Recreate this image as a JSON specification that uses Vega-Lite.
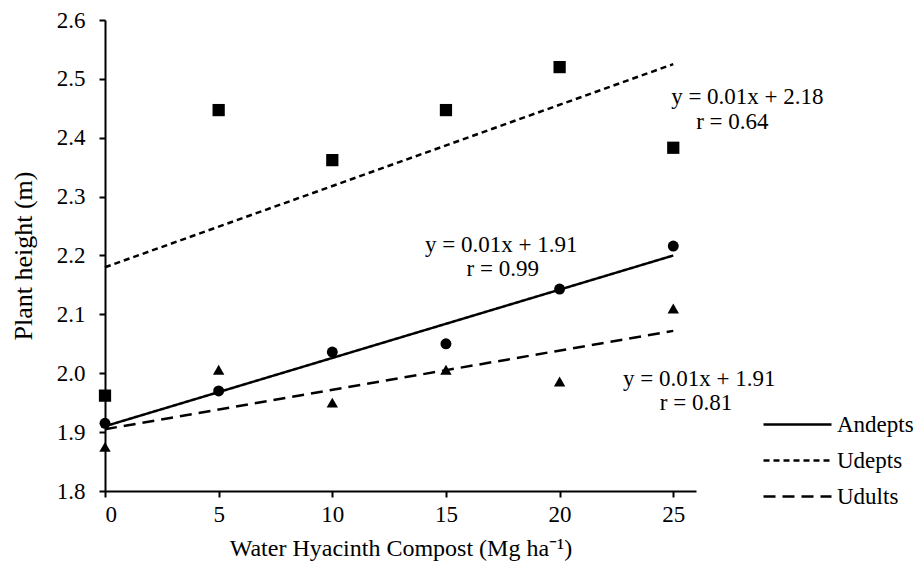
{
  "$schema": "https://vega.github.io/schema/vega-lite/v6.json",
  "width": 591,
  "height": 471,
  "autosize": {"type": "none"},
  "padding": {"left": 105, "top": 20, "right": 223, "bottom": 74},
  "background": "white",
  "config": {
    "view": {"stroke": null},
    "font": "Liberation Serif",
    "axis": {
      "domainColor": "black", "domainWidth": 2, "tickColor": "black", "tickWidth": 2, "tickSize": 6,
      "labelFont": "Liberation Serif", "labelFontSize": 23, "labelColor": "black",
      "titleFont": "Liberation Serif", "titleFontSize": 24, "titleFontWeight": "normal", "titleColor": "black",
      "grid": false
    }
  },
  "datasets": {
    "pts": [
      {"x": 0, "y": 1.962, "s": "Udepts"}, {"x": 5, "y": 2.447, "s": "Udepts"}, {"x": 10, "y": 2.362, "s": "Udepts"},
      {"x": 15, "y": 2.447, "s": "Udepts"}, {"x": 20, "y": 2.52, "s": "Udepts"}, {"x": 25, "y": 2.383, "s": "Udepts"},
      {"x": 0, "y": 1.915, "s": "Andepts"}, {"x": 5, "y": 1.97, "s": "Andepts"}, {"x": 10, "y": 2.036, "s": "Andepts"},
      {"x": 15, "y": 2.05, "s": "Andepts"}, {"x": 20, "y": 2.143, "s": "Andepts"}, {"x": 25, "y": 2.216, "s": "Andepts"},
      {"x": 0, "y": 1.875, "s": "Udults"}, {"x": 5, "y": 2.006, "s": "Udults"}, {"x": 10, "y": 1.95, "s": "Udults"},
      {"x": 15, "y": 2.006, "s": "Udults"}, {"x": 20, "y": 1.986, "s": "Udults"}, {"x": 25, "y": 2.11, "s": "Udults"}
    ],
    "fit": [
      {"x": 0, "y": 1.91, "series": "Andepts"}, {"x": 25, "y": 2.2, "series": "Andepts"},
      {"x": 0, "y": 2.18, "series": "Udepts"}, {"x": 25, "y": 2.525, "series": "Udepts"},
      {"x": 0, "y": 1.905, "series": "Udults"}, {"x": 25, "y": 2.072, "series": "Udults"}
    ],
    "notes": [
      {"x": 28.26, "y": 2.469, "t": "y = 0.01x + 2.18"},
      {"x": 27.6, "y": 2.427, "t": "r = 0.64"},
      {"x": 17.43, "y": 2.218, "t": "y = 0.01x + 1.91"},
      {"x": 17.5, "y": 2.177, "t": "r = 0.99"},
      {"x": 26.14, "y": 1.99, "t": "y = 0.01x + 1.91"},
      {"x": 26.0, "y": 1.949, "t": "r = 0.81"}
    ]
  },
  "layer": [
    {
      "data": {"name": "fit"},
      "mark": {"type": "line", "color": "black", "strokeWidth": 2.5, "clip": false},
      "encoding": {
        "x": {"field": "x", "type": "quantitative", "scale": {"domain": [0, 25]},
          "axis": {"values": [0, 5, 10, 15, 20, 25], "title": "Water Hyacinth Compost (Mg ha⁻¹)", "labelPadding": 6, "titlePadding": 10}},
        "y": {"field": "y", "type": "quantitative", "scale": {"domain": [1.8, 2.6], "zero": false},
          "axis": {"values": [1.8, 1.9, 2.0, 2.1, 2.2, 2.3, 2.4, 2.5, 2.6], "format": ".1f", "title": "Plant height (m)", "titleFontSize": 26, "labelPadding": 14, "titlePadding": 20}},
        "strokeDash": {"field": "series", "type": "nominal",
          "scale": {"domain": ["Andepts", "Udepts", "Udults"], "range": [[1, 0], [6, 4], [12, 7]]},
          "legend": {"title": null, "orient": "none", "legendX": 674, "legendY": 386,
            "symbolType": "M-2,0H2", "symbolSize": 1156, "symbolStrokeWidth": 2.5, "symbolStrokeColor": "black",
            "labelFont": "Liberation Serif", "labelFontSize": 23, "labelColor": "black", "labelOffset": 21, "rowPadding": 5}},
        "detail": {"field": "series"}
      }
    },
    {
      "data": {"name": "pts"},
      "transform": [{"filter": "datum.s == 'Udepts'"}],
      "mark": {"type": "point", "shape": "square", "size": 150, "filled": true, "color": "black", "opacity": 1, "clip": false},
      "encoding": {
        "x": {"field": "x", "type": "quantitative"},
        "y": {"field": "y", "type": "quantitative"}
      }
    },
    {
      "data": {"name": "pts"},
      "transform": [{"filter": "datum.s == 'Andepts'"}],
      "mark": {"type": "point", "shape": "circle", "size": 120, "filled": true, "color": "black", "opacity": 1, "clip": false},
      "encoding": {
        "x": {"field": "x", "type": "quantitative"},
        "y": {"field": "y", "type": "quantitative"}
      }
    },
    {
      "data": {"name": "pts"},
      "transform": [{"filter": "datum.s == 'Udults'"}],
      "mark": {"type": "point", "shape": "triangle-up", "size": 130, "filled": true, "color": "black", "opacity": 1, "clip": false},
      "encoding": {
        "x": {"field": "x", "type": "quantitative"},
        "y": {"field": "y", "type": "quantitative"}
      }
    },
    {
      "data": {"name": "notes"},
      "mark": {"type": "text", "font": "Liberation Serif", "fontSize": 23, "color": "black", "align": "center", "baseline": "middle", "clip": false},
      "encoding": {
        "x": {"field": "x", "type": "quantitative"},
        "y": {"field": "y", "type": "quantitative"},
        "text": {"field": "t", "type": "nominal"}
      }
    }
  ]
}
